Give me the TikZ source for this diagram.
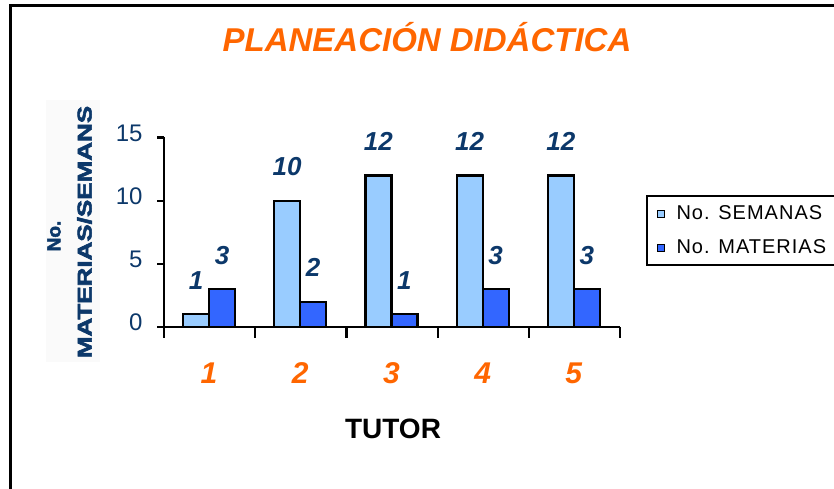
\documentclass[tikz,border=0pt]{standalone}
\usepackage{fontspec}
\setmainfont{Liberation Sans}
\newfontfamily\heavyfont{Liberation Sans}[BoldFeatures={FakeBold=2.5}]
\newfontfamily\legfont{Liberation Sans}[LetterSpace=5]
\definecolor{navy}{RGB}{12,56,106}
\definecolor{tutorange}{RGB}{255,102,0}
\definecolor{semcol}{RGB}{153,204,255}
\definecolor{matcol}{RGB}{51,102,255}

\begin{document}
\begin{tikzpicture}[x=1pt,y=-1pt,
		bar/.style={draw=black,line width=2.2pt},
		val/.style={text=navy,font=\fontsize{26}{26}\selectfont\bfseries\itshape},
		cat/.style={text=tutorange,font=\fontsize{30}{30}\selectfont\bfseries\itshape,anchor=base},
		ticklbl/.style={text=navy,font=\fontsize{24}{24}\selectfont,anchor=east},
		legtxt/.style={font=\fontsize{20}{20}\selectfont\legfont,anchor=west}]
	\useasboundingbox (0,0) rectangle (834,489);
	\clip (0,0) rectangle (834,489);
	% frame
	\draw[line width=3pt] (10,500) -- (10,6) -- (850,6);
	\node[text=tutorange,font=\fontsize{33}{33}\selectfont\bfseries\itshape,anchor=base] (title) at (427,52) {PLANEACIÓN DIDÁCTICA};
	% y title
	\fill[black!2] (46,100) rectangle (100,362);
	\node[rotate=90,text=navy,font=\fontsize{19}{19}\selectfont\heavyfont\bfseries] (yno) at (54,236) {No.};
	\node[rotate=90,text=navy,font=\fontsize{20}{20}\selectfont\heavyfont\bfseries] (ymat) at (84.5,232) {\scalebox{1.3}[1]{MATERIAS/SEMANS}};
	% bars
	\foreach \i/\a/\b in {1/1/3, 2/10/2, 3/12/1, 4/12/3, 5/12/3} {
		\pgfmathsetmacro\xl{164+91.2*(\i-1)+19}
		\draw[bar,fill=semcol] (\xl,327) rectangle ++(26,-12.63*\a);
		\draw[bar,fill=matcol] (\xl+26,327) rectangle ++(26,-12.63*\b);
		\node[val] (sem\i) at (\xl+13,327-12.63*\a-34) {\a};
		\node[val] (mat\i) at (\xl+39,327-12.63*\b-34) {\b};
		\node[cat] (cat\i) at (\xl+26,383) {\i};
	}
	% axes
	\coordinate (o) at (164,327);
	\coordinate (ytop) at (164,137);
	\coordinate (xend) at (620,327);
	\draw[line width=2.6pt] (ytop) -- (o) -- (xend);
	\foreach \v in {0,5,10,15} {
		\draw[line width=2.2pt] (157,327-12.63*\v) -- +(7,0);
		\node[ticklbl] (t\v) at (146,327-12.63*\v-4.5) {\v};
	}
	\foreach \k in {0,...,5}
		\draw[line width=2.2pt] (164+91.2*\k,327) -- +(0,11);
	\node[font=\fontsize{28}{28}\selectfont\bfseries,anchor=base] (tutor) at (393,438) {TUTOR};
	% legend
	\draw[line width=2.2pt] (647,196) rectangle (850,265);
	\draw[line width=1pt,fill=semcol] (657,210) rectangle (664,217);
	\draw[line width=1pt,fill=matcol] (657,244) rectangle (664,251);
	\node[legtxt] (leg1) at (673,213) {No. SEMANAS};
	\node[legtxt] (leg2) at (673,247) {No. MATERIAS};
\end{tikzpicture}
\end{document}
